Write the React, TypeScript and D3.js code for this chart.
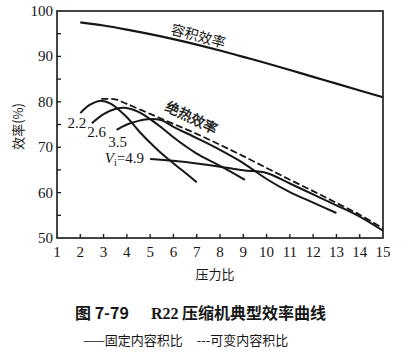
import React from "react";
import * as d3 from "d3";

const xTicks = [1, 2, 3, 4, 5, 6, 7, 8, 9, 10, 11, 12, 13, 14, 15];
const yTickLabels = [50, 60, 70, 80, 90, 100];
const yMinorTicks = [55, 60, 65, 70, 75, 80, 85, 90, 95];

const volumetric: [number, number][] = [
  [2, 97.5], [3, 96.8], [4, 95.9], [5, 94.9], [6, 93.8], [7, 92.6], [8, 91.3],
  [9, 89.9], [10, 88.5], [11, 87.0], [12, 85.5], [13, 84.0], [14, 82.5], [15, 81.0],
];

const adiabaticVariable: [number, number][] = [
  [2.9, 80.3], [3.5, 80.2], [4, 79.2], [5, 77.0], [6, 74.8], [7, 72.6], [8, 70.2],
  [9, 67.7], [10, 65.1], [11, 62.5], [12, 60.0], [13, 57.4], [14, 54.8], [15, 51.8],
];

const vi22: [number, number][] = [
  [2.0, 77.5], [2.4, 79.3], [2.85, 80.2], [3.3, 79.6], [4, 76.6], [4.56, 73.3],
  [5.2, 70.0], [5.72, 67.6], [6.4, 64.8], [7.0, 62.3],
];

const vi26: [number, number][] = [
  [2.5, 75.3], [3, 77.3], [3.5, 78.4], [3.9, 78.7], [4.5, 77.8], [5, 76.2],
  [5.5, 74.3], [6, 72.2], [6.5, 70.3], [7, 68.6], [7.7, 66.7], [8.4, 64.8], [9.07, 62.8],
];

const vi35: [number, number][] = [
  [3.56, 73.8], [4, 75.0], [4.5, 75.8], [5, 76.2], [5.5, 75.9], [6, 74.5],
  [7, 72.0], [8, 69.4], [9, 66.5], [10, 63.0], [11, 60.1], [12, 57.8], [13, 55.5],
];

const vi49: [number, number][] = [
  [5, 67.4], [6, 67.0], [7, 66.4], [8, 65.7], [9, 64.9], [10, 64.3],
  [11, 62.0], [12, 59.6], [13, 57.2], [14, 54.7], [15, 51.6],
];

const viLabels = ["2.2", "2.6", "3.5"];

export default function App() {
  const x = d3.scaleLinear().domain([1, 15]).range([57, 383]);
  const y = d3.scaleLinear().domain([50, 100]).range([238, 11]);
  const line = d3
    .line<[number, number]>()
    .x((d) => x(d[0]))
    .y((d) => y(d[1]))
    .curve(d3.curveCatmullRom.alpha(0.5));

  const ink = "#161616";
  const serif = "'Liberation Serif', 'DejaVu Serif', serif";
  const cjk = "'Noto Sans CJK SC', sans-serif";

  const solid = [vi22, vi26, vi35, vi49];

  return (
    <svg
      width={418}
      height={355}
      style={{ position: "absolute", left: 0, top: 0, background: "#fff" }}
    >
      <rect x={0} y={0} width={418} height={355} fill="#fff" />
      {/* frame */}
      <rect
        x={x(1)}
        y={y(100)}
        width={x(15) - x(1)}
        height={y(50) - y(100)}
        fill="none"
        stroke={ink}
        strokeWidth={1.6}
      />
      {/* y ticks (inward) */}
      {yMinorTicks.map((v) => (
        <line key={"yt" + v} x1={x(1)} x2={x(1) + 4} y1={y(v)} y2={y(v)} stroke={ink} strokeWidth={1.3} />
      ))}
      {/* x ticks (inward) */}
      {xTicks.slice(1, -1).map((v) => (
        <line key={"xt" + v} x1={x(v)} x2={x(v)} y1={y(50)} y2={y(50) - 4} stroke={ink} strokeWidth={1.3} />
      ))}
      {/* y labels */}
      {yTickLabels.map((v) => (
        <text
          key={"yl" + v}
          x={x(1) - 4}
          y={y(v) + 5}
          textAnchor="end"
          fontFamily={serif}
          fontSize={15}
          fill={ink}
        >
          {v}
        </text>
      ))}
      {/* x labels */}
      {xTicks.map((v) => (
        <text
          key={"xl" + v}
          x={x(v)}
          y={y(50) + 19}
          textAnchor="middle"
          fontFamily={serif}
          fontSize={15}
          fill={ink}
        >
          {v}
        </text>
      ))}
      {/* axis titles */}
      <text
        transform={`translate(23,${(y(50) + y(100)) / 2 + 2}) rotate(-90)`}
        textAnchor="middle"
        fontFamily={cjk}
        fontSize={13}
        fill={ink}
      >
        效率(%)
      </text>
      <text x={215} y={279} textAnchor="middle" fontFamily={cjk} fontSize={13} fill={ink}>
        压力比
      </text>

      {/* curves */}
      <path d={line(volumetric) || ""} fill="none" stroke={ink} strokeWidth={2.2} />
      <path
        d={line(adiabaticVariable) || ""}
        fill="none"
        stroke={ink}
        strokeWidth={1.8}
        strokeDasharray="7,3"
        transform="translate(0,-1.5)"
      />
      {solid.map((s, i) => (
        <path key={"c" + i} d={line(s) || ""} fill="none" stroke={ink} strokeWidth={2} />
      ))}

      {/* curve labels */}
      <text
        transform={`translate(${x(5.85)},${y(95.0)}) rotate(15)`}
        fontFamily={cjk}
        fontSize={14}
        fill={ink}
      >
        容积效率
      </text>
      <text
        transform={`translate(${x(5.6)},${y(78.2)}) rotate(26)`}
        fontFamily={cjk}
        fontSize={14}
        fill={ink}
        stroke={ink}
        strokeWidth={0.4}
      >
        绝热效率
      </text>
      <text x={x(1.45)} y={y(74.2)} fontFamily={serif} fontSize={15} fill={ink}>
        {viLabels[0]}
      </text>
      <text x={x(2.3)} y={y(72.2)} fontFamily={serif} fontSize={15} fill={ink}>
        {viLabels[1]}
      </text>
      <text x={x(3.2)} y={y(70.0)} fontFamily={serif} fontSize={15} fill={ink}>
        {viLabels[2]}
      </text>
      <text x={x(3.05)} y={y(66.5)} fontFamily={serif} fontSize={15} fill={ink}>
        <tspan fontStyle="italic">V</tspan>
        <tspan fontSize={10} dy={3}>i</tspan>
        <tspan dy={-3}>=4.9</tspan>
      </text>

      {/* caption */}
      <text x={75} y={319} fontFamily={cjk} fontSize={16} fontWeight="bold" fill={ink}>
        图 7-79<tspan dx={22} fontFamily={serif} fontWeight="bold">R22</tspan> 压缩机典型效率曲线
      </text>
      <text x={83} y={345} fontFamily={cjk} fontSize={13} fill={ink}>
        ——固定内容积比<tspan dx={14}>---可变内容积比</tspan>
      </text>
    </svg>
  );
}
